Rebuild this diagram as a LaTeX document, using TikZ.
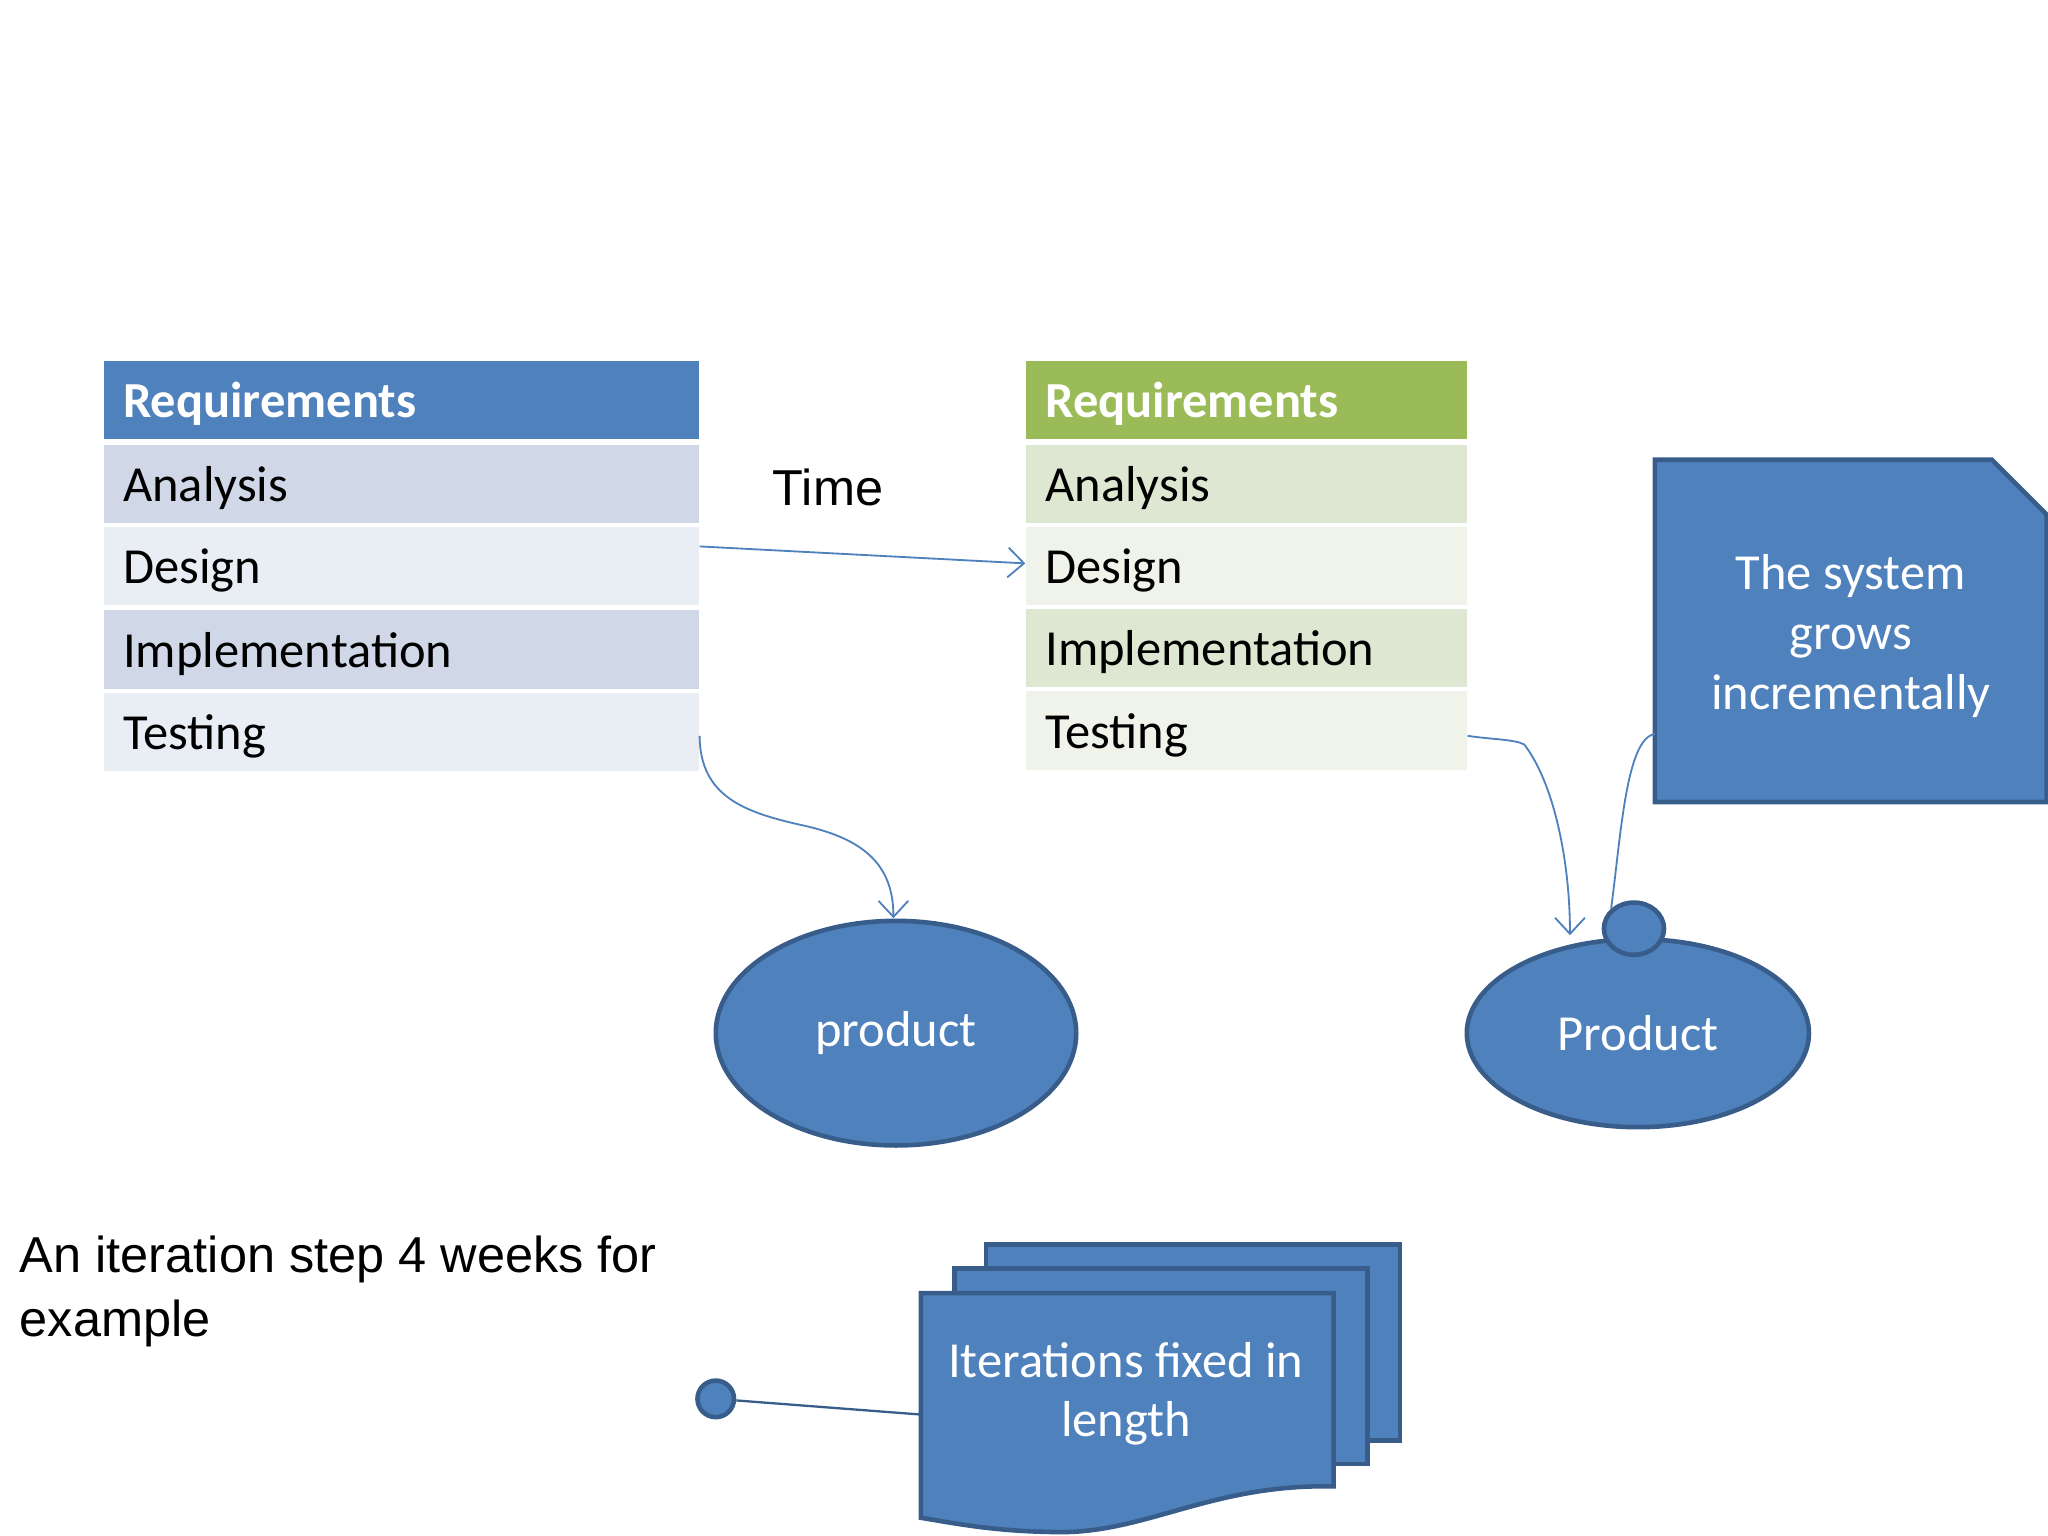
\documentclass[tikz,border=0pt]{standalone}
\usepackage{fontspec}
\setmainfont{Carlito}
\newfontfamily\arial{Liberation Sans}
\usetikzlibrary{shapes.geometric,arrows.meta,calc}
\definecolor{hb}{HTML}{4F81BD}
\definecolor{bd}{HTML}{385D8A}
\definecolor{lb1}{HTML}{D0D8E8}
\definecolor{lb2}{HTML}{E9EDF4}
\definecolor{hg}{HTML}{9BBB59}
\definecolor{lg1}{HTML}{DEE7D1}
\definecolor{lg2}{HTML}{EFF3EA}
\tikzset{
 cell/.style={anchor=north west,minimum height=1.2cm,text depth=0pt,inner xsep=0.3cm,font=\fontsize{22}{24}\selectfont,align=left,text width=#1},
 link/.style={draw=hb,line width=0.8pt},
 tip/.style={-{Straight Barb[length=7pt,width=13pt]}},
 shp/.style={fill=hb,draw=bd,line width=2pt},
 wt/.style={text=white,font=\fontsize{22}{26}\selectfont,align=center}
}
\begin{document}
\begin{tikzpicture}[x=0.02cm,y=-0.02cm]
\useasboundingbox (0,0) rectangle (1568,1176);
% left table
\node[cell=8.52cm,fill=hb,text=white,font=\fontsize{22}{24}\selectfont\bfseries] (lreq) at (79,276) {Requirements};
\node[cell=8.52cm,fill=lb1] (lana) at (79,340) {Analysis};
\node[cell=8.52cm,fill=lb2] (ldes) at (79,403) {Design};
\node[cell=8.52cm,fill=lb1] (limp) at (79,467) {Implementation};
\node[cell=8.52cm,fill=lb2] (ltes) at (79,530) {Testing};
% right table
\node[cell=6.16cm,fill=hg,text=white,font=\fontsize{22}{24}\selectfont\bfseries] (rreq) at (785,276) {Requirements};
\node[cell=6.16cm,fill=lg1] (rana) at (785,340) {Analysis};
\node[cell=6.16cm,fill=lg2] (rdes) at (785,403) {Design};
\node[cell=6.16cm,fill=lg1] (rimp) at (785,466) {Implementation};
\node[cell=6.16cm,fill=lg2] (rtes) at (785,529) {Testing};
\node[font=\arial\fontsize{22}{26}\selectfont] (time) at (634,373) {Time};
\draw[link,tip] ($(ldes.east)+(0,-15)$) -- ($(rdes.west)+(0,-2)$);
% ellipses
\node[shp,ellipse,minimum width=5.52cm,minimum height=3.44cm,wt] (prod1) at (686,791) {product};
\node[shp,ellipse,minimum width=5.24cm,minimum height=2.88cm,wt] (prod2) at (1254,791) {Product};
\node[shp,ellipse,minimum width=0.92cm,minimum height=0.8cm] (knob) at (1251,711) {};
\draw[link,tip] ($(ltes.east)+(0,3)$) .. controls (536,610) and (570,622) .. (615,632) .. controls (665,643) and (684,665) .. (684,703);
\draw[link,tip] ($(rtes.east)+(0,4)$) .. controls (1140,566) and (1160,566) .. (1167,570) .. controls (1190,600) and (1202,660) .. (1202,716);
% note
\draw[shp] (1267,352) -- (1525,352) -- (1567,394) -- (1567,614) -- (1267,614) -- cycle;
\node[wt] (note) at (1417,487) {The system\\grows\\incrementally};
\coordinate (nl) at (1267,562);
\draw[link] (knob.north west) .. controls (1241,640) and (1245,565) .. (nl);
% iteration text
\node[anchor=north west,font=\arial\fontsize{22}{28}\selectfont,align=left] (iter) at (9,940) {An iteration step 4 weeks for\\example};
% multidocument
\draw[shp] (755,953) rectangle (1072,1103);
\draw[shp] (731,971) rectangle (1047,1121);
\draw[shp] (705,990) -- (1021,990) -- (1021,1138) .. controls (930,1136) and (880,1172) .. (815,1173) .. controls (765,1173) and (735,1167) .. (705,1162) -- cycle;
\node[wt] (doc) at (862,1067) {Iterations fixed in\\length};
\coordinate (dl) at (705,1083);
\node[shp,circle,minimum size=0.56cm,inner sep=0pt] (dot) at (548,1071) {};
\draw[link,draw=bd,line width=1pt] (dot) -- (dl);
\end{tikzpicture}
\end{document}
